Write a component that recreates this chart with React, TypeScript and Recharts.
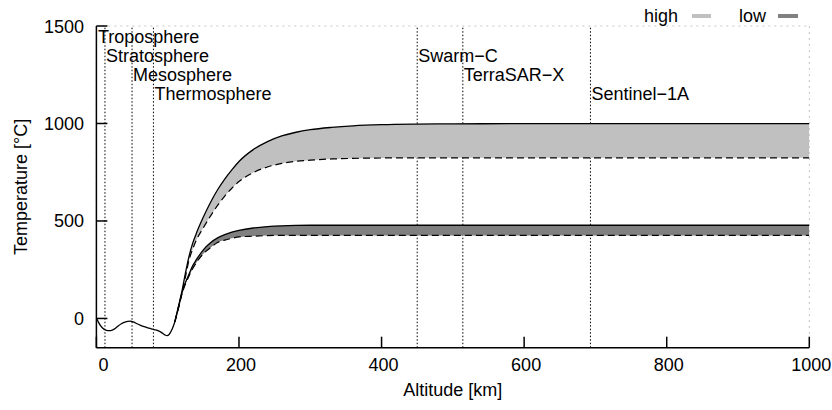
import React from 'react';
import { ComposedChart, Area, Line, XAxis, YAxis, CartesianGrid, ReferenceLine, Legend } from 'recharts';

// Lower atmosphere profile (single curve)
const lowerAlt = [0, 3, 6, 9, 12, 16, 20, 25, 30, 35, 40, 44, 48, 52, 57, 62, 67, 72, 77, 82, 87, 92, 96, 99, 102, 106, 110];
const lowerTemp = [2, -20, -38, -50, -58, -62, -62, -55, -40, -27, -19, -15, -14, -18, -27, -35, -42, -48, -53, -58, -64, -74, -84, -88, -82, -57, -18];

// Thermosphere branches
const bandAlt = [110, 115, 120, 125, 130, 135, 140, 150, 160, 170, 180, 190, 200, 220, 240, 260, 280, 300, 330, 360, 400, 450, 500, 600, 700, 800, 900, 1000];
const highMax = [-18, 60, 140, 235, 320, 385, 435, 520, 595, 660, 715, 762, 805, 866, 907, 936, 955, 968, 980, 988, 994, 997, 998, 999, 999, 999, 999, 999];
const highMin = [-18, 55, 130, 215, 300, 355, 400, 465, 525, 580, 628, 668, 702, 748, 777, 795, 806, 812, 818, 821, 823, 824, 824, 824, 824, 824, 824, 824];
const lowMax = [-18, 55, 130, 185, 228, 270, 300, 352, 388, 413, 430, 443, 452, 464, 471, 475, 477, 478, 478, 478, 478, 478, 478, 478, 478, 478, 478, 478];
const lowMin = [-18, 50, 125, 178, 218, 255, 285, 332, 363, 390, 402, 411, 418, 422, 425, 426, 426, 426, 426, 426, 426, 426, 426, 426, 426, 426, 426, 426];

const xTicks = [0, 200, 400, 600, 800, 1000];
const yTicks = [0, 500, 1000, 1500];

const layerLabelAlt = [0, 12, 50, 80];
const layerNames = ['Troposphere', 'Stratosphere', 'Mesosphere', 'Thermosphere'];
const layerBounds = [12, 50, 80];
const satAlt = [450, 514, 693];
const satNames = ['Swarm\u2212C', 'TerraSAR\u2212X', 'Sentinel\u22121A'];
const satRows = [1, 2, 3];

const FONT = '"Liberation Sans", Arial, Helvetica, sans-serif';
const FS = 18;
const W = 832;
const H = 410;
const MARGIN = { top: 26, right: 22.7, bottom: 0, left: 0 };
const X_DOMAIN: [number, number] = [0, 1000];
const Y_DOMAIN: [number, number] = [-150, 1500];

type Row = { alt: number; [k: string]: any };
const rowMap = new Map<number, Row>();
const getRow = (a: number) => {
  if (!rowMap.has(a)) rowMap.set(a, { alt: a });
  return rowMap.get(a)!;
};
lowerAlt.forEach((a, i) => {
  getRow(a).base = lowerTemp[i];
});
bandAlt.forEach((a, i) => {
  const r = getRow(a);
  r.hMax = highMax[i];
  r.hMin = highMin[i];
  r.lMax = lowMax[i];
  r.lMin = lowMin[i];
});
const data = Array.from(rowMap.values()).sort((a, b) => a.alt - b.alt);

const hBand = (d: Row) => (d.hMax != null ? [d.hMin, d.hMax] : [null, null]);
const lBand = (d: Row) => (d.lMax != null ? [d.lMin, d.lMax] : [null, null]);

const XTick = (props: any) => {
  const { x, y, payload } = props;
  const dx = payload.value === 0 ? 7 : 2;
  return (
    <text x={x + dx} y={y + 12} textAnchor="middle" fontSize={FS} fontFamily={FONT} fill="#000">
      {payload.value}
    </text>
  );
};

const YTick = (props: any) => {
  const { x, y, payload } = props;
  return (
    <text x={x} y={y + 6.5} textAnchor="end" fontSize={FS} fontFamily={FONT} fill="#000">
      {payload.value}
    </text>
  );
};

const makeRefLabel = (text: string, row: number, dx: number) => (props: any) => {
  const vb = props.viewBox || {};
  return (
    <text x={vb.x + dx} y={vb.y + 10 + row * 19 + 6.5} textAnchor="start" fontSize={FS} fontFamily={FONT} fill="#000">
      {text}
    </text>
  );
};

const XLabel = (props: any) => {
  const vb = props.viewBox || {};
  return (
    <text x={vb.x + vb.width / 2} y={vb.y + 48} textAnchor="middle" fontSize={FS} fontFamily={FONT} fill="#000">
      Altitude [km]
    </text>
  );
};

const YLabel = (props: any) => {
  const vb = props.viewBox || {};
  const cy = vb.y + vb.height / 2;
  const cx = 21;
  return (
    <text
      x={cx}
      y={cy}
      dy={6.5}
      transform={`rotate(-90, ${cx}, ${cy})`}
      textAnchor="middle"
      fontSize={FS}
      fontFamily={FONT}
      fill="#000"
    >
      Temperature [°C]
    </text>
  );
};

const LegendContent = () => (
  <svg width={200} height={28} style={{ display: 'block' }}>
    <text x={48} y={22} textAnchor="end" fontSize={FS} fontFamily={FONT} fill="#000">high</text>
    <rect x={62} y={14} width={19} height={4} fill="#c0c0c0" />
    <text x={136} y={22} textAnchor="end" fontSize={FS} fontFamily={FONT} fill="#000">low</text>
    <rect x={148} y={14} width={20} height={4} fill="#808080" />
  </svg>
);

// Background layer: grid + vertical boundary lines (drawn beneath the filled bands)
function BackLayer() {
  const refProps: any = { stroke: '#000', strokeWidth: 1, strokeDasharray: '1.5 2' };
  return (
    <ComposedChart width={W} height={H} data={data} margin={MARGIN}>
      <CartesianGrid stroke="#c4c4c4" strokeDasharray="2 4" strokeWidth={1} />
      <XAxis dataKey="alt" type="number" domain={X_DOMAIN} ticks={xTicks} allowDataOverflow height={62.3} tick={false} axisLine={false} tickLine={false} />
      <XAxis xAxisId="top" orientation="top" dataKey="alt" type="number" domain={X_DOMAIN} ticks={xTicks} height={0} tick={false} axisLine={false} tickLine={false} />
      <YAxis type="number" domain={Y_DOMAIN} ticks={yTicks} allowDataOverflow width={96.4} tick={false} axisLine={false} tickLine={false} />
      <YAxis yAxisId="right" orientation="right" type="number" domain={Y_DOMAIN} ticks={yTicks} width={0} tick={false} axisLine={false} tickLine={false} />
      <ReferenceLine x={layerLabelAlt[0]} stroke="none" label={makeRefLabel(layerNames[0], 0, 1.5)} />
      {layerBounds.map((a, i) => (
        <ReferenceLine key={'lb' + a} x={a} {...refProps} label={makeRefLabel(layerNames[i + 1], i + 1, 1)} />
      ))}
      {satAlt.map((a, i) => (
        <ReferenceLine key={'sat' + a} x={a} {...refProps} label={makeRefLabel(satNames[i], satRows[i], 1)} />
      ))}
    </ComposedChart>
  );
}

function FrontLayer() {
  const axisStroke = { stroke: '#000', strokeWidth: 1.5 };
  return (
    <ComposedChart width={W} height={H} data={data} margin={MARGIN}>
      <XAxis
        dataKey="alt"
        type="number"
        domain={X_DOMAIN}
        ticks={xTicks}
        allowDataOverflow
        height={62.3}
        tickSize={-11}
        tickMargin={22}
        tick={<XTick />}
        axisLine={axisStroke}
        tickLine={axisStroke}
        label={<XLabel />}
      />
      <XAxis
        xAxisId="top"
        orientation="top"
        dataKey="alt"
        type="number"
        domain={X_DOMAIN}
        ticks={xTicks}
        allowDataOverflow
        height={0}
        tickSize={-11}
        tick={false}
        axisLine={axisStroke}
        tickLine={axisStroke}
      />
      <YAxis
        type="number"
        domain={Y_DOMAIN}
        ticks={yTicks}
        allowDataOverflow
        width={96.4}
        tickSize={-11}
        tickMargin={23.4}
        tick={<YTick />}
        axisLine={axisStroke}
        tickLine={axisStroke}
        label={<YLabel />}
      />
      <YAxis
        yAxisId="right"
        orientation="right"
        type="number"
        domain={Y_DOMAIN}
        ticks={yTicks}
        allowDataOverflow
        width={0}
        tickSize={-11}
        tick={false}
        axisLine={axisStroke}
        tickLine={axisStroke}
      />
      <Area type="monotone" dataKey={hBand} stroke="none" fill="#c0c0c0" fillOpacity={1} isAnimationActive={false} name="high" />
      <Area type="monotone" dataKey={lBand} stroke="none" fill="#808080" fillOpacity={1} isAnimationActive={false} name="low" />
      <Line type="monotone" dataKey="base" stroke="#000" strokeWidth={1.3} dot={false} isAnimationActive={false} legendType="none" />
      <Line type="monotone" dataKey="hMax" stroke="#000" strokeWidth={1.3} dot={false} isAnimationActive={false} legendType="none" />
      <Line type="monotone" dataKey="hMin" stroke="#000" strokeWidth={1.2} strokeDasharray="7 4" dot={false} isAnimationActive={false} legendType="none" />
      <Line type="monotone" dataKey="lMax" stroke="#000" strokeWidth={1.3} dot={false} isAnimationActive={false} legendType="none" />
      <Line type="monotone" dataKey="lMin" stroke="#000" strokeWidth={1.2} strokeDasharray="7 4" dot={false} isAnimationActive={false} legendType="none" />
      <Legend
        layout="horizontal"
        verticalAlign="middle"
        align="center"
        wrapperStyle={{ top: 0, left: 630, width: 200, height: 28 }}
        content={() => <LegendContent />}
      />
    </ComposedChart>
  );
}

export default function App() {
  return (
    <div style={{ position: 'absolute', left: 0, top: 0, width: W, height: H, background: '#fff' }}>
      <div style={{ position: 'absolute', left: 0, top: 0 }}>
        <BackLayer />
      </div>
      <div style={{ position: 'absolute', left: 0, top: 0 }}>
        <FrontLayer />
      </div>
    </div>
  );
}
